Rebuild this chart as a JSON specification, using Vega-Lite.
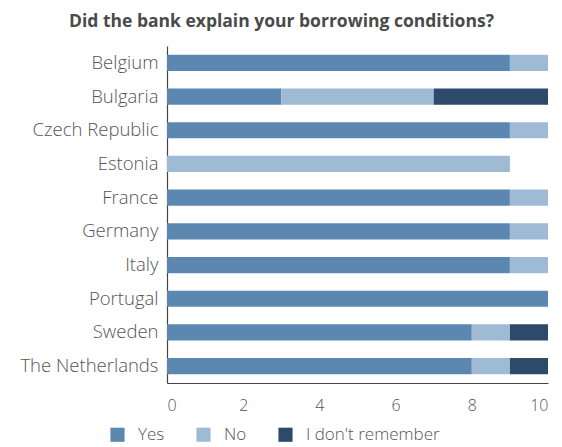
{
  "$schema": "https://vega.github.io/schema/vega-lite/v6.json",
  "width": 381,
  "height": 337,
  "autosize": "none",
  "padding": {"left": 167, "top": 46, "right": 14, "bottom": 64},
  "background": "white",
  "title": {
    "text": "Did the bank explain your borrowing conditions?",
    "font": "Open Sans",
    "fontSize": 17.5,
    "fontWeight": "bold",
    "color": "#4a4a4a",
    "anchor": "middle",
    "dx": -76,
    "offset": 16
  },
  "data": {
    "values": [
      {"country": "Belgium", "answer": "Yes", "k": 1, "value": 9},
      {"country": "Belgium", "answer": "No", "k": 2, "value": 1},
      {"country": "Bulgaria", "answer": "Yes", "k": 1, "value": 3},
      {"country": "Bulgaria", "answer": "No", "k": 2, "value": 4},
      {"country": "Bulgaria", "answer": "I don't remember", "k": 3, "value": 3},
      {"country": "Czech Republic", "answer": "Yes", "k": 1, "value": 9},
      {"country": "Czech Republic", "answer": "No", "k": 2, "value": 1},
      {"country": "Estonia", "answer": "No", "k": 2, "value": 9},
      {"country": "France", "answer": "Yes", "k": 1, "value": 9},
      {"country": "France", "answer": "No", "k": 2, "value": 1},
      {"country": "Germany", "answer": "Yes", "k": 1, "value": 9},
      {"country": "Germany", "answer": "No", "k": 2, "value": 1},
      {"country": "Italy", "answer": "Yes", "k": 1, "value": 9},
      {"country": "Italy", "answer": "No", "k": 2, "value": 1},
      {"country": "Portugal", "answer": "Yes", "k": 1, "value": 10},
      {"country": "Sweden", "answer": "Yes", "k": 1, "value": 8},
      {"country": "Sweden", "answer": "No", "k": 2, "value": 1},
      {"country": "Sweden", "answer": "I don't remember", "k": 3, "value": 1},
      {"country": "The Netherlands", "answer": "Yes", "k": 1, "value": 8},
      {"country": "The Netherlands", "answer": "No", "k": 2, "value": 1},
      {"country": "The Netherlands", "answer": "I don't remember", "k": 3, "value": 1}
    ]
  },
  "mark": {"type": "bar"},
  "encoding": {
    "y": {
      "field": "country",
      "type": "nominal",
      "sort": null,
      "scale": {"paddingInner": 0.52, "paddingOuter": 0.26},
      "axis": {
        "title": null,
        "ticks": false,
        "domainColor": "#444",
        "domainWidth": 1.2,
        "labelFont": "Open Sans",
        "labelFontSize": 18.5,
        "labelFontWeight": 300,
        "labelColor": "#555555",
        "labelPadding": 9
      }
    },
    "x": {
      "field": "value",
      "type": "quantitative",
      "stack": "zero",
      "scale": {"domain": [0, 10], "nice": false},
      "axis": {
        "title": null,
        "values": [0, 2, 4, 6, 8, 10],
        "grid": false,
        "ticks": false,
        "domainColor": "#444",
        "domainWidth": 1.2,
        "labelFont": "Open Sans",
        "labelFontSize": 16,
        "labelFontWeight": 300,
        "labelColor": "#555555",
        "labelPadding": 14
      }
    },
    "color": {
      "field": "answer",
      "type": "nominal",
      "scale": {
        "domain": ["Yes", "No", "I don't remember"],
        "range": ["#5b87b0", "#9fbad4", "#2e4a6b"]
      },
      "legend": {
        "title": null,
        "orient": "none",
        "direction": "horizontal",
        "legendX": -58,
        "legendY": 380,
        "symbolType": "square",
        "symbolSize": 200,
        "symbolStrokeWidth": 0,
        "symbolOpacity": 1,
        "labelFont": "Open Sans",
        "labelFontSize": 17,
        "labelFontWeight": 300,
        "labelColor": "#555555",
        "labelOffset": 12,
        "columnPadding": 30
      }
    },
    "order": {"field": "k", "type": "quantitative"}
  },
  "config": {"view": {"stroke": null}}
}
